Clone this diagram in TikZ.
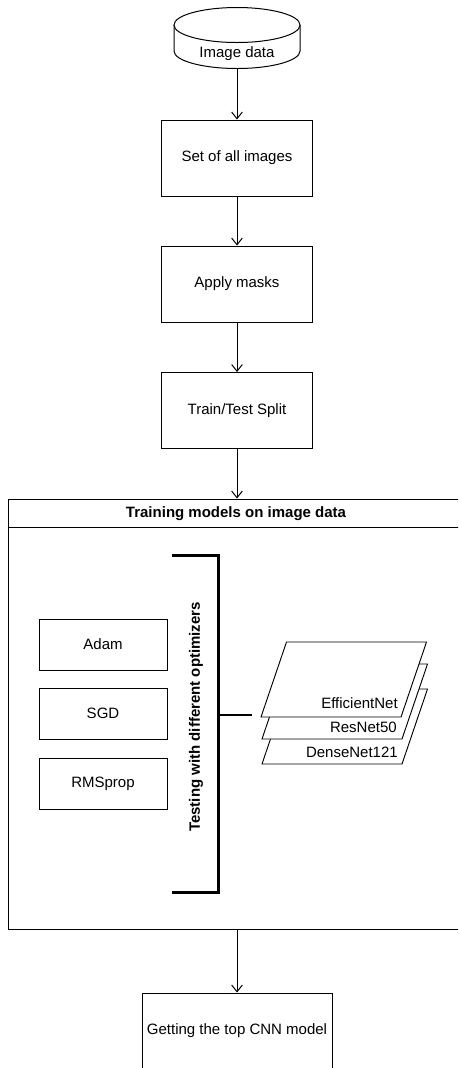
\documentclass[tikz,border=0pt]{standalone}
\usepackage{fontspec}
\setmainfont{Liberation Sans}
\usetikzlibrary{arrows.meta,calc,positioning}
\definecolor{FlowInk}{HTML}{000000}
\definecolor{FlowPaper}{HTML}{FFFFFF}
\tikzset{
  every node/.style={font=\fontsize{11.25}{13.5}\selectfont, text=FlowInk},
  stage/.style={draw=FlowInk, line width=0.75pt, fill=FlowPaper, minimum width=113.25pt, minimum height=57pt, inner sep=0pt},
  optbox/.style={stage, minimum width=96pt, minimum height=38.25pt},
  frame/.style={draw=FlowInk, line width=0.75pt},
  layer/.style={draw=FlowInk, line width=0.7pt, fill=FlowPaper},
  flow/.style={-{Straight Barb[length=5pt,width=8pt]}, draw=FlowInk, line width=0.75pt},
  bracket/.style={draw=FlowInk, line width=2.25pt},
  heading/.style={font=\fontsize{11.25}{13.5}\selectfont\bfseries},
}

\begin{document}
\begin{tikzpicture}[x=0.75pt,y=-0.75pt]
  \clip (0,0) rectangle (458,1068);
  % Image data (cylinder)
  \node[minimum width=94.5pt, minimum height=46.5pt, inner sep=0pt] (imgdata) at (237,38) {};
  \draw[stage] (174,25) -- (174,51) arc[start angle=180, end angle=360, x radius=47.25pt, y radius=13.125pt] -- (300,25);
  \draw[stage] (237,25) ellipse [x radius=47.25pt, y radius=13.125pt];
  \node (imgtext) at (237,54) {Image data};
  % Pipeline
  \node[stage] (allimgs) at (237,158) {Set of all images};
  \node[stage] (masks) at (237,284) {Apply masks};
  \node[stage] (split) at (237,410.5) {Train/Test Split};
  % Training container
  \node[frame, minimum width=342pt, minimum height=322.5pt, inner sep=0pt] (train) at (236,714) {};
  \node[heading] (traintitle) at (236,513.5) {Training models on image data};
  \draw[frame] ($(train.north west)+(0,29)$) -- ($(train.north east)+(0,29)$);
  % Optimizers
  \node[optbox] (adam) at (103,644.5) {Adam};
  \node[optbox] (sgd) at (103,713.5) {SGD};
  \node[optbox] (rms) at (103,783.5) {RMSprop};
  % Bracket
  \draw[bracket] (172,555) -- (218,555) -- (218,892) -- (172,892);
  \node[heading, rotate=90] (testopt) at (196,717) {Testing with different optimizers};
  % Model stack
  \draw[layer] (262,764) -- (402,764) -- (427.5,689) -- (287.5,689) -- cycle;
  \draw[layer] (262,739) -- (402,739) -- (427.5,664) -- (287.5,664) -- cycle;
  \draw[layer] (261,717) -- (401,717) -- (426.5,642) -- (286.5,642) -- cycle;
  \node[anchor=east, inner sep=0pt] (densenet) at (398,752) {DenseNet121};
  \node[anchor=east, inner sep=0pt] (resnet) at (397,727) {ResNet50};
  \node[anchor=east, inner sep=0pt] (effnet) at (398,703) {EfficientNet};
  \coordinate (brk) at (218,715);
  \coordinate (stk) at (252,715);
  \draw[FlowInk, line width=1.5pt] (brk) -- (stk);
  % Result
  \node[stage, minimum width=142.5pt] (topmodel) at (237,1031) {Getting the top CNN model};
  % Connectors
  \draw[flow] (imgdata) -- (allimgs);
  \draw[flow] (allimgs) -- (masks);
  \draw[flow] (masks) -- (split);
  \draw[flow] (split.south) -- (split.south |- train.north);
  \draw[flow] (train.south -| topmodel.north) -- (topmodel.north);
\end{tikzpicture}
\end{document}
